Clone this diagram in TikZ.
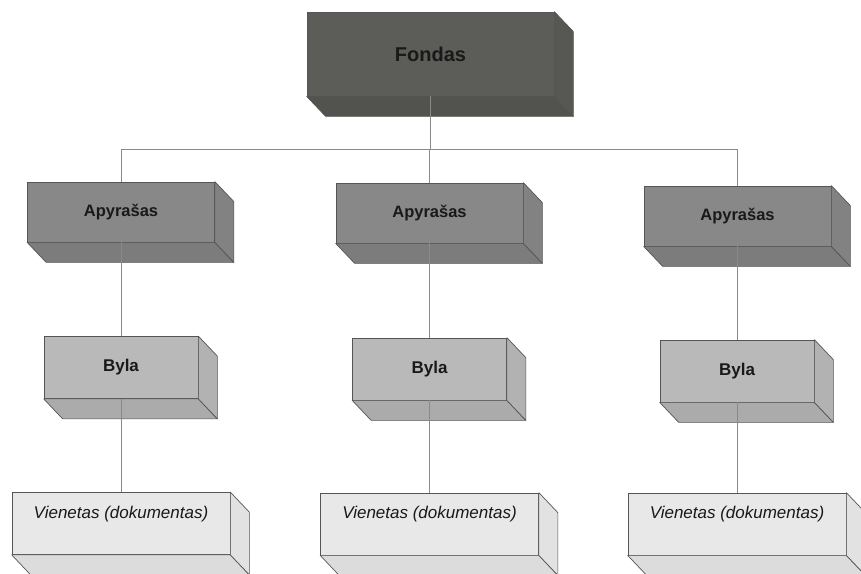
\documentclass[tikz,border=0pt]{standalone}
\usepackage{fontspec}
\setmainfont{Liberation Sans}
\usetikzlibrary{calc}
\definecolor{fA}{HTML}{5C5C58}\definecolor{bA}{HTML}{52524E}\definecolor{rA}{HTML}{575753}
\definecolor{fB}{HTML}{888888}\definecolor{bB}{HTML}{7C7C7C}\definecolor{rB}{HTML}{828282}
\definecolor{fC}{HTML}{B9B9B9}\definecolor{bC}{HTML}{ABABAB}\definecolor{rC}{HTML}{B2B2B2}
\definecolor{fD}{HTML}{E8E8E8}\definecolor{bD}{HTML}{DCDCDC}\definecolor{rD}{HTML}{E2E2E2}
\definecolor{edge}{HTML}{555555}
\definecolor{conn}{HTML}{8A8A8A}
\newcommand\cuboidfaces[3]{%
  \filldraw[fill=#2,draw=edge,line width=0.7pt,line join=round]
    (#1.south west) -- ++(19,20) -- ($(#1.south east)+(19,20)$) -- (#1.south east) -- cycle;
  \filldraw[fill=#3,draw=edge,line width=0.7pt,line join=round]
    (#1.north east) -- ++(19,20) -- ($(#1.south east)+(19,20)$) -- (#1.south east) -- cycle;
}
\tikzset{
  face/.style={rectangle,draw=edge,line width=0.7pt,inner sep=0pt,text=black!90},
  lvlone/.style={face,fill=fA,minimum width=247pt,minimum height=84pt,font=\bfseries\fontsize{20}{24}\selectfont},
  lvltwo/.style={face,fill=fB,minimum width=187pt,minimum height=60pt,font=\bfseries\fontsize{16.5}{20}\selectfont},
  lvlthree/.style={face,fill=fC,minimum width=154pt,minimum height=62pt,font=\bfseries\fontsize{17}{20}\selectfont},
  lvlfour/.style={face,fill=fD,minimum width=218pt,minimum height=62pt,font=\itshape\fontsize{17}{20}\selectfont,text height=12.5pt,text depth=23.5pt},
  connector/.style={draw=conn,line width=0.8pt}
}
\begin{document}
\begin{tikzpicture}[x=1pt,y=-1pt]
\useasboundingbox (0,0) rectangle (861,573);
\clip (0,0) rectangle (861,573);
\fill[white] (0,0) rectangle (861,573);
% level 1
\node[lvlone] (F) at (430.5,54) {Fondas};
% level 2
\node[lvltwo] (A1) at (121,212) {Apyrašas};
\node[lvltwo] (A2) at (429.5,213) {Apyrašas};
\node[lvltwo] (A3) at (737.5,216) {Apyrašas};
% level 3
\node[lvlthree] (B1) at (121,367.5) {Byla};
\node[lvlthree] (B2) at (429.5,369) {Byla};
\node[lvlthree] (B3) at (737,371) {Byla};
% level 4
\node[lvlfour] (V1) at (121,523.5) {Vienetas (dokumentas)};
\node[lvlfour] (V2) at (429.5,524) {Vienetas (dokumentas)};
\node[lvlfour] (V3) at (737,524) {Vienetas (dokumentas)};
% 3D faces
\cuboidfaces{F}{bA}{rA}
\cuboidfaces{A1}{bB}{rB}\cuboidfaces{A2}{bB}{rB}\cuboidfaces{A3}{bB}{rB}
\cuboidfaces{B1}{bC}{rC}\cuboidfaces{B2}{bC}{rC}\cuboidfaces{B3}{bC}{rC}
\cuboidfaces{V1}{bD}{rD}\cuboidfaces{V2}{bD}{rD}\cuboidfaces{V3}{bD}{rD}
% connectors
\coordinate (bus) at (0,149);
\draw[connector] (F.south) -- (F.south |- bus);
\draw[connector] (A1.north) -- (A1.north |- bus) -- (A3.north |- bus) -- (A3.north);
\draw[connector] (A2.north) -- (A2.north |- bus);
\draw[connector] (A1.south) -- (B1.north);
\draw[connector] (A2.south) -- (B2.north);
\draw[connector] (A3.south) -- (A3.south |- B3.north);
\draw[connector] (B1.south) -- (V1.north);
\draw[connector] (B2.south) -- (V2.north);
\draw[connector] (B3.south) -- (V3.north);
\end{tikzpicture}
\end{document}
